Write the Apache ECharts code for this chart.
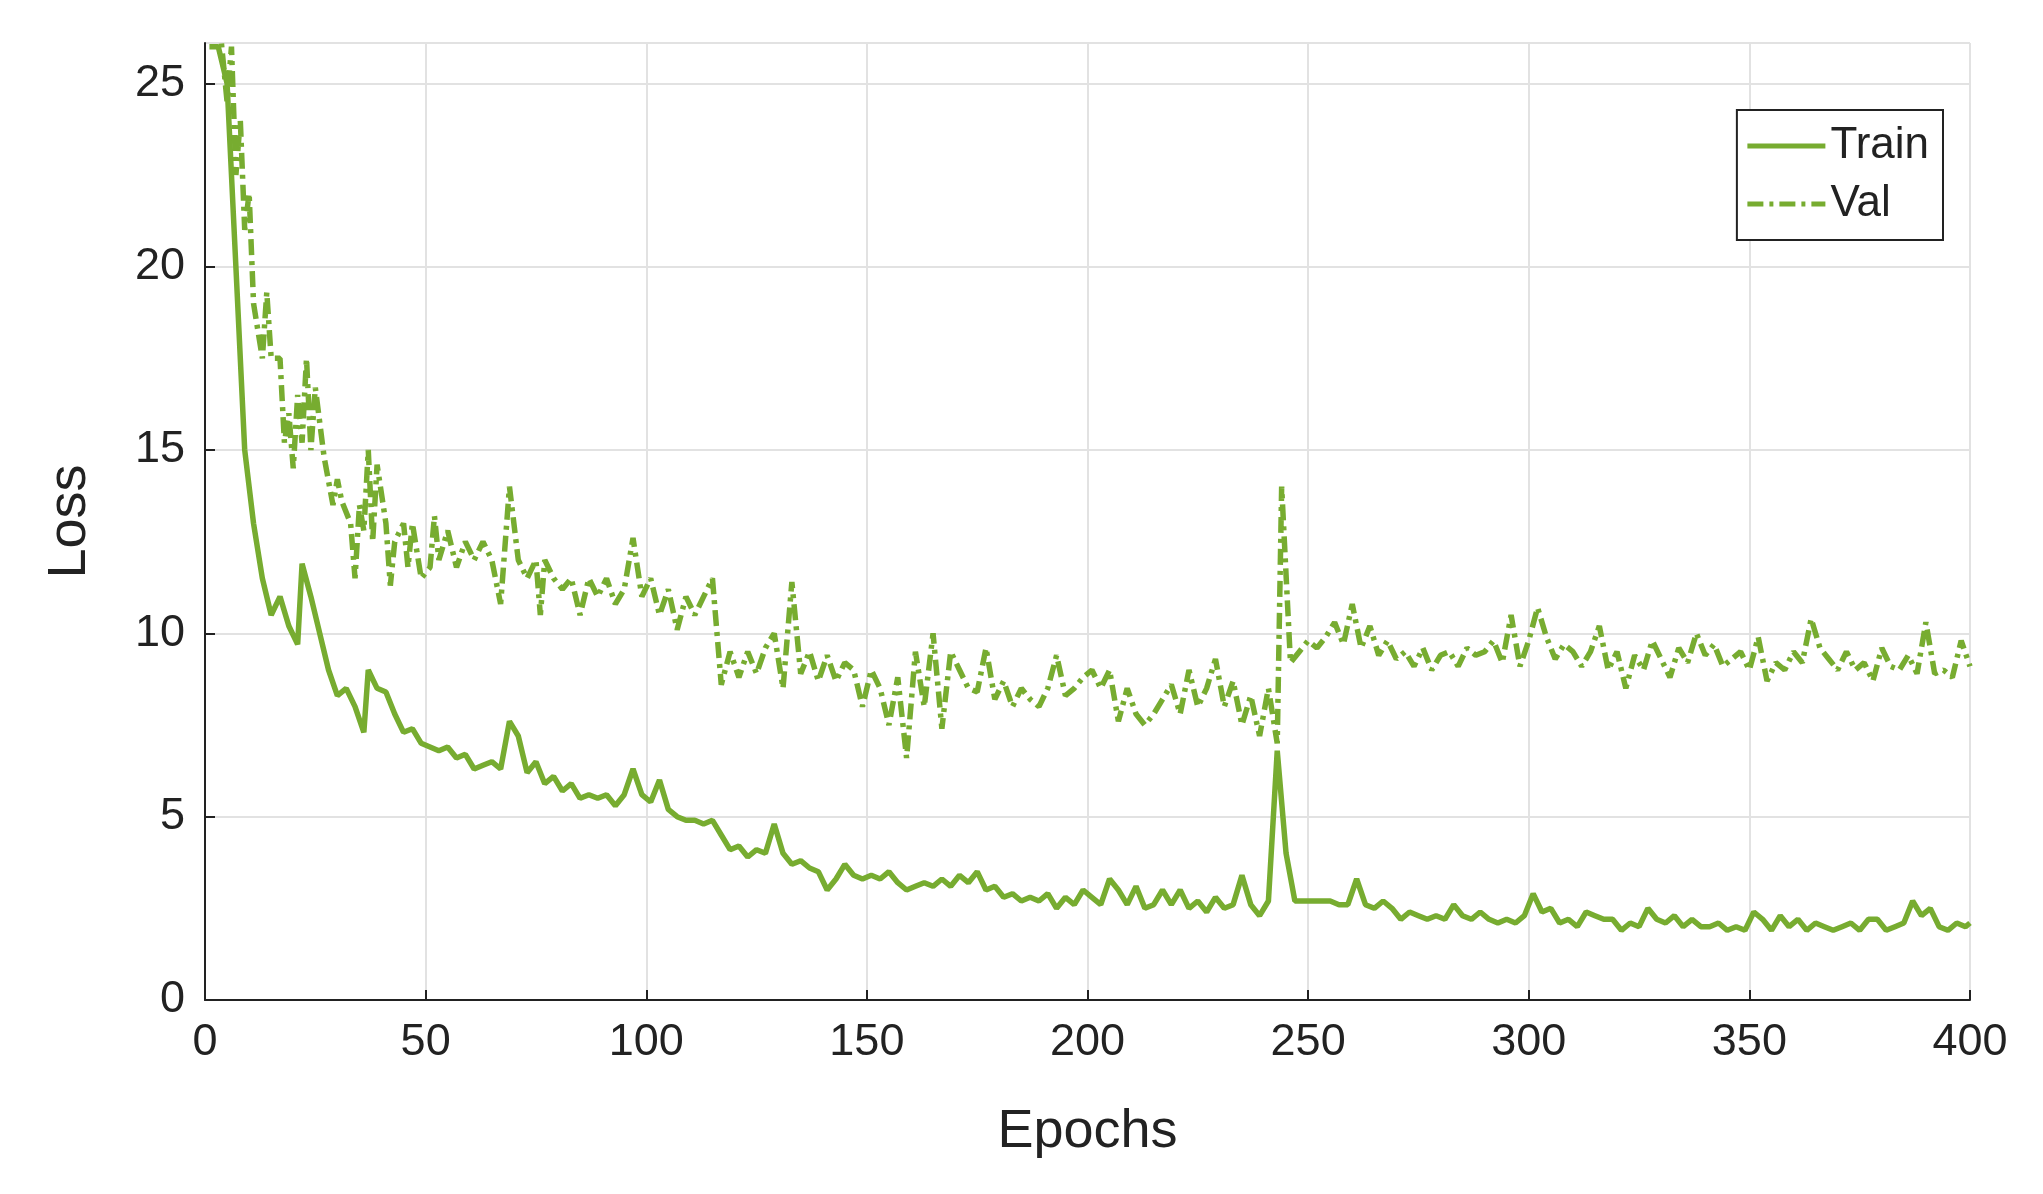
<!DOCTYPE html>
<html><head><meta charset="utf-8">
<script src="https://cdn.jsdelivr.net/npm/echarts@6/dist/echarts.min.js"></script>
<style>html,body{margin:0;padding:0;background:#fff}#c{width:2043px;height:1194px}</style>
</head><body><div id="c"></div>
<script>
const trainEpochs=[1,3,5,7,9,11,13,15,17,19,21,22,24,26,28,30,32,34,36,37,39,41,43,45,47,49,51,53,55,57,59,61,63,65,67,69,71,73,75,77,79,81,83,85,87,89,91,93,95,97,99,101,103,105,107,109,111,113,115,117,119,121,123,125,127,129,131,133,135,137,139,141,143,145,147,149,151,153,155,157,159,161,163,165,167,169,171,173,175,177,179,181,183,185,187,189,191,193,195,197,199,201,203,205,207,209,211,213,215,217,219,221,223,225,227,229,231,233,235,237,239,241,243,245,247,249,251,253,255,257,259,261,263,265,267,269,271,273,275,277,279,281,283,285,287,289,291,293,295,297,299,301,303,305,307,309,311,313,315,317,319,321,323,325,327,329,331,333,335,337,339,341,343,345,347,349,351,353,355,357,359,361,363,365,367,369,371,373,375,377,379,381,383,385,387,389,391,393,395,397,399,400];
const trainLoss=[26,26,25,20,15,13,11.5,10.5,11,10.2,9.7,11.9,11,10,9,8.3,8.5,8,7.3,9,8.5,8.4,7.8,7.3,7.4,7.0,6.9,6.8,6.9,6.6,6.7,6.3,6.4,6.5,6.3,7.6,7.2,6.2,6.5,5.9,6.1,5.7,5.9,5.5,5.6,5.5,5.6,5.3,5.6,6.3,5.6,5.4,6.0,5.2,5.0,4.9,4.9,4.8,4.9,4.5,4.1,4.2,3.9,4.1,4.0,4.8,4.0,3.7,3.8,3.6,3.5,3.0,3.3,3.7,3.4,3.3,3.4,3.3,3.5,3.2,3.0,3.1,3.2,3.1,3.3,3.1,3.4,3.2,3.5,3.0,3.1,2.8,2.9,2.7,2.8,2.7,2.9,2.5,2.8,2.6,3.0,2.8,2.6,3.3,3.0,2.6,3.1,2.5,2.6,3.0,2.6,3.0,2.5,2.7,2.4,2.8,2.5,2.6,3.4,2.6,2.3,2.7,6.8,4.0,2.7,2.7,2.7,2.7,2.7,2.6,2.6,3.3,2.6,2.5,2.7,2.5,2.2,2.4,2.3,2.2,2.3,2.2,2.6,2.3,2.2,2.4,2.2,2.1,2.2,2.1,2.3,2.9,2.4,2.5,2.1,2.2,2.0,2.4,2.3,2.2,2.2,1.9,2.1,2.0,2.5,2.2,2.1,2.3,2.0,2.2,2.0,2.0,2.1,1.9,2.0,1.9,2.4,2.2,1.9,2.3,2.0,2.2,1.9,2.1,2.0,1.9,2.0,2.1,1.9,2.2,2.2,1.9,2.0,2.1,2.7,2.3,2.5,2.0,1.9,2.1,2.0,2.1];
const valEpochs=[1,3,5,6,7,8,9,10,11,13,14,15,17,18,19,20,21,22,23,24,25,27,29,30,31,33,34,35,36,37,38,39,41,42,43,45,46,47,49,51,52,53,55,57,59,61,63,65,67,69,71,73,75,76,77,79,81,83,85,87,89,91,93,95,97,99,101,103,105,107,109,111,113,115,117,119,121,123,125,127,129,131,133,135,137,139,141,143,145,147,149,151,153,155,157,159,161,163,165,167,169,171,173,175,177,179,181,183,185,187,189,191,193,195,197,199,201,203,205,207,209,211,213,215,217,219,221,223,225,227,229,231,233,235,237,239,241,243,244,246,248,250,252,254,256,258,260,262,264,266,268,270,272,274,276,278,280,282,284,286,288,290,292,294,296,298,300,302,304,306,308,310,312,314,316,318,320,322,324,326,328,330,332,334,336,338,340,342,344,346,348,350,352,354,356,358,360,362,364,366,368,370,372,374,376,378,380,382,384,386,388,390,392,394,396,398,400];
const valLoss=[26.5,27,24.5,26,22.5,24,21,22,19,17.5,19.3,17.5,17.5,15.2,16,14.5,16.5,15.2,17.5,15,16.7,14.8,13.5,14.2,13.6,13,11.5,13.5,12.8,15,12.5,14.6,13,11.3,12.5,13,11.8,13,11.5,11.8,13.2,12,12.8,11.8,12.5,12,12.5,12,10.8,14,12,11.5,12,10.5,12,11.5,11.2,11.5,10.5,11.5,11,11.5,10.8,11.2,12.6,11,11.5,10.5,11.2,10.1,11,10.5,11,11.5,8.6,9.5,8.8,9.5,8.9,9.6,10,8.5,11.4,8.9,9.5,8.7,9.4,8.7,9.2,9,8,9,8.5,7.5,8.8,6.6,9.5,8,10,7.4,9.5,9,8.5,8.4,9.6,8.2,8.7,8,8.5,8.2,8,8.5,9.4,8.3,8.5,8.8,9,8.5,9,7.6,8.5,7.8,7.5,7.8,8.2,8.6,7.8,9,8,8.5,9.3,8,8.7,7.5,8.3,7.2,8.5,7.0,14,9.2,9.5,9.8,9.6,9.9,10.3,9.7,10.8,9.6,10.2,9.4,9.8,9.3,9.5,9.1,9.6,9,9.4,9.5,9.1,9.6,9.4,9.5,9.8,9.2,10.5,9.1,9.8,10.7,9.9,9.3,9.7,9.5,9.1,9.5,10.2,9.0,9.5,8.5,9.4,9.0,9.8,9.3,8.8,9.6,9.2,10.0,9.4,9.7,9.1,9.3,9.5,9.0,9.9,8.7,9.2,9.0,9.5,9.2,10.4,9.6,9.3,9.0,9.5,9.0,9.2,8.7,9.6,9.1,9.0,9.4,8.9,10.3,8.9,9.0,8.8,9.8,9.1];
const xTicks=[0,50,100,150,200,250,300,350,400];
const green='#77AC30';
const font='Arial, "Liberation Sans", sans-serif';
const chart=echarts.init(document.getElementById('c'));
chart.setOption({
 animation:false,
 grid:{left:205,right:73,top:43,bottom:194},
 legend:{right:100,top:110,orient:'vertical',backgroundColor:'#fff',borderColor:'#222',borderWidth:2,borderRadius:0,padding:[14,14,14,8],itemGap:14,itemWidth:78,itemHeight:30,
  itemStyle:{opacity:0},lineStyle:{width:5},
  textStyle:{fontFamily:font,fontSize:44,color:'#222'},data:['Train','Val']},
 xAxis:{type:'value',min:0,max:400,interval:50,name:'Epochs',nameLocation:'middle',nameGap:105,
  nameTextStyle:{fontFamily:font,fontSize:54,color:'#222'},
  axisLine:{lineStyle:{color:'#222',width:2}},axisTick:{inside:true,length:10,lineStyle:{color:'#222',width:2}},
  axisLabel:{fontFamily:font,fontSize:45,color:'#222',margin:20,formatter:v=>xTicks.includes(v)?String(v):''},
  splitLine:{lineStyle:{color:'#e2e2e2',width:2}}},
 yAxis:{type:'value',min:0,max:26.1,interval:5,name:'Loss',nameLocation:'middle',nameGap:108,
  nameTextStyle:{fontFamily:font,fontSize:54,color:'#222'},
  axisLine:{show:true,lineStyle:{color:'#222',width:2}},axisTick:{show:true,inside:true,length:10,lineStyle:{color:'#222',width:2}},
  axisLabel:{fontFamily:font,fontSize:45,color:'#222',margin:20,showMaxLabel:false},
  splitLine:{lineStyle:{color:'#e2e2e2',width:2}}},
 series:[
  {name:'Train',type:'line',showSymbol:false,symbol:'none',clip:true,lineStyle:{color:green,width:5.5},itemStyle:{color:green},
   data:trainEpochs.map((e,i)=>[e,trainLoss[i]])},
  {name:'Val',type:'line',showSymbol:false,symbol:'none',clip:true,lineStyle:{color:green,width:5.5,type:[16,6,4,6]},itemStyle:{color:green},
   data:valEpochs.map((e,i)=>[e,valLoss[i]])}
 ]
});
</script></body></html>
